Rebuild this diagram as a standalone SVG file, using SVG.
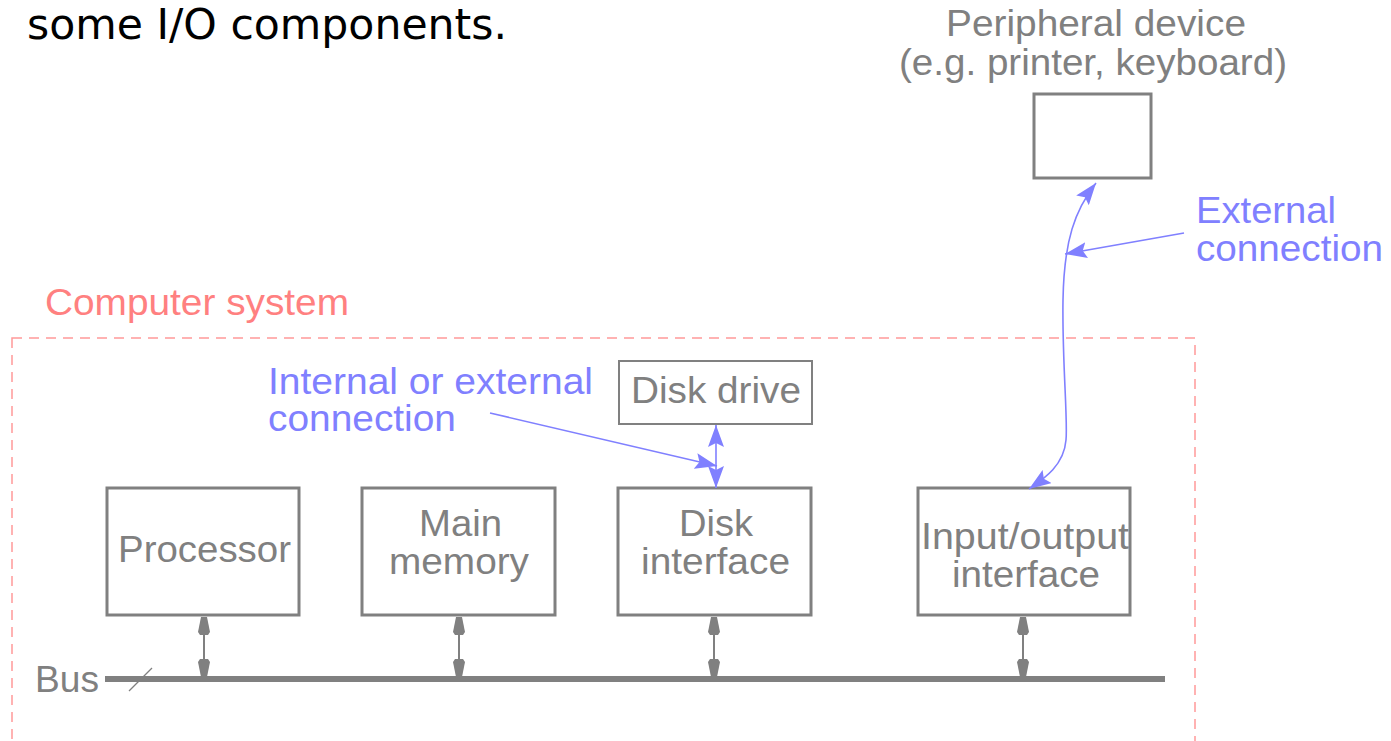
<svg xmlns="http://www.w3.org/2000/svg" width="1391" height="741" viewBox="0 0 1391 741">
<style>
.box{fill:#fff;stroke:#808080;stroke-width:3}
.gt{font-family:"Liberation Sans",Arial,sans-serif;font-size:36px;fill:#808080}
.bt{font-family:"Liberation Sans",Arial,sans-serif;font-size:36px;fill:#8080ff}
.gl{stroke:#808080;stroke-width:2;fill:none}
.bl{stroke:#8080ff;stroke-width:1.6;fill:none}
</style>
<defs>
<marker id="gah" viewBox="0 0 18 12" refX="18" refY="6" markerWidth="18" markerHeight="12" markerUnits="userSpaceOnUse" orient="auto-start-reverse">
<path d="M0,2 L3,0 L18,3 L18,9 L3,12 L0,10 Z" fill="#808080"/>
</marker>
<marker id="ba" viewBox="0 0 22 16" refX="22" refY="8" markerWidth="22" markerHeight="16" markerUnits="userSpaceOnUse" orient="auto-start-reverse">
<path d="M0,0 L22,8 L0,16 L4,8 Z" fill="#8080ff"/>
</marker>
</defs>
<rect width="1391" height="741" fill="#fff"/>
<text x="27" y="39" font-family="DejaVu Sans,Verdana,sans-serif" font-size="43" fill="#000" textLength="480" lengthAdjust="spacingAndGlyphs">some I/O components.</text>

<g id="computer-system">
<rect x="12" y="338" width="1183" height="420" fill="none" stroke="#ff9999" stroke-width="1.5" stroke-dasharray="10,7"/>
<text x="45" y="315" font-family="Liberation Sans,Arial,sans-serif" font-size="36" fill="#ff8080" textLength="304" lengthAdjust="spacingAndGlyphs">Computer system</text>
</g>

<g id="peripheral">
<text class="gt" x="946" y="36" font-size="34" textLength="300" lengthAdjust="spacingAndGlyphs">Peripheral device</text>
<text class="gt" x="899" y="75" font-size="34" textLength="388" lengthAdjust="spacingAndGlyphs">(e.g. printer, keyboard)</text>
<rect class="box" x="1034" y="94" width="117" height="84"/>
</g>

<g id="disk-drive">
<rect x="619" y="361" width="193" height="63" fill="#fff" stroke="#808080" stroke-width="2"/>
<text class="gt" x="631" y="403" textLength="170" lengthAdjust="spacingAndGlyphs">Disk drive</text>
</g>

<g id="processor">
<rect class="box" x="107" y="488" width="192" height="127"/>
<text class="gt" x="118" y="562" textLength="173" lengthAdjust="spacingAndGlyphs">Processor</text>
</g>

<g id="main-memory">
<rect class="box" x="362" y="488" width="193" height="127"/>
<text class="gt" x="419" y="536" textLength="83" lengthAdjust="spacingAndGlyphs">Main</text>
<text class="gt" x="389" y="574" textLength="140" lengthAdjust="spacingAndGlyphs">memory</text>
</g>

<g id="disk-interface">
<rect class="box" x="618" y="488" width="193" height="127"/>
<text class="gt" x="679" y="536" textLength="74" lengthAdjust="spacingAndGlyphs">Disk</text>
<text class="gt" x="641" y="574" textLength="149" lengthAdjust="spacingAndGlyphs">interface</text>
</g>

<g id="io-interface">
<rect class="box" x="918" y="488" width="212" height="127"/>
<text class="gt" x="921" y="549" textLength="208" lengthAdjust="spacingAndGlyphs">Input/output</text>
<text class="gt" x="952" y="587" textLength="148" lengthAdjust="spacingAndGlyphs">interface</text>
</g>

<g id="bus">
<line x1="105" y1="679" x2="1165" y2="679" stroke="#808080" stroke-width="6"/>
<line x1="129" y1="691" x2="152" y2="668" stroke="#808080" stroke-width="1.2"/>
<text class="gt" x="35" y="692" textLength="64" lengthAdjust="spacingAndGlyphs">Bus</text>
</g>

<g id="connectors">
<line class="gl" x1="204" y1="617" x2="204" y2="677" marker-start="url(#gah)" marker-end="url(#gah)"/>
<line class="gl" x1="459" y1="617" x2="459" y2="677" marker-start="url(#gah)" marker-end="url(#gah)"/>
<line class="gl" x1="714" y1="617" x2="714" y2="677" marker-start="url(#gah)" marker-end="url(#gah)"/>
<line class="gl" x1="1023" y1="617" x2="1023" y2="677" marker-start="url(#gah)" marker-end="url(#gah)"/>
<line class="bl" x1="716" y1="425" x2="716" y2="488" marker-start="url(#ba)" marker-end="url(#ba)"/>
<line class="bl" x1="490" y1="413" x2="717" y2="466" marker-end="url(#ba)"/>
<path class="bl" d="M1096,183 C1075,210 1064,240 1063,300 C1062,360 1068,420 1066,440 C1064,465 1045,478 1029,489" marker-start="url(#ba)" marker-end="url(#ba)"/>
<line class="bl" x1="1184" y1="233" x2="1065" y2="254" marker-end="url(#ba)"/>
<text class="bt" x="268" y="394" textLength="325" lengthAdjust="spacingAndGlyphs">Internal or external</text>
<text class="bt" x="268" y="431" textLength="188" lengthAdjust="spacingAndGlyphs">connection</text>
<text class="bt" x="1196" y="223" textLength="140" lengthAdjust="spacingAndGlyphs">External</text>
<text class="bt" x="1196" y="261" textLength="187" lengthAdjust="spacingAndGlyphs">connection</text>
</g>
</svg>
